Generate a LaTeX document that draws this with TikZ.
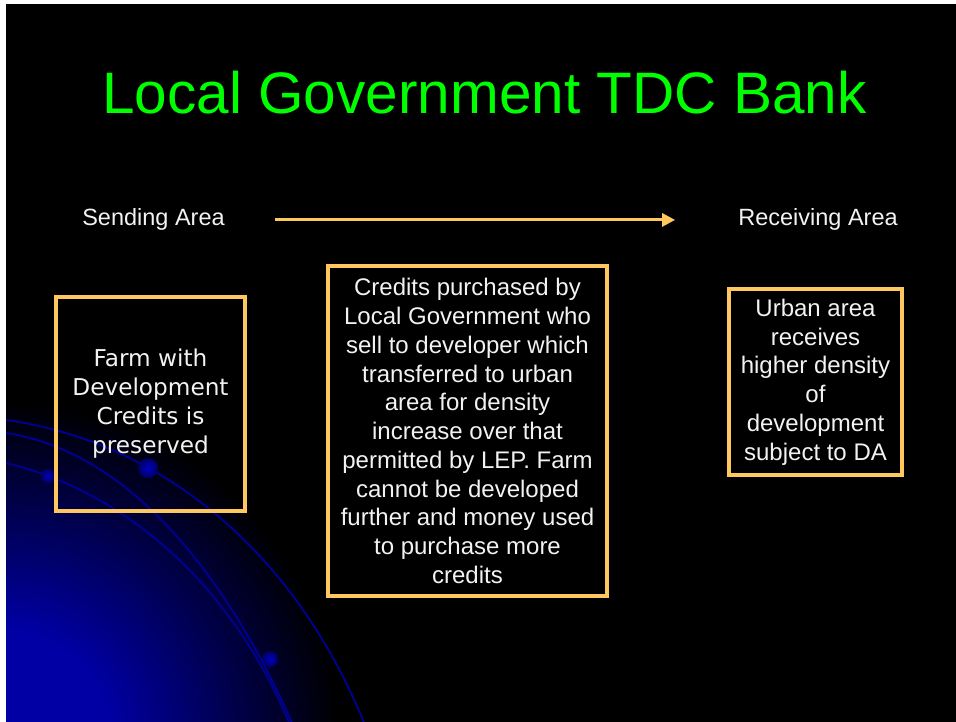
\documentclass[tikz,border=0pt]{standalone}
\usepackage{fontspec}
\setmainfont{Liberation Sans}
\newfontfamily\verdana{DejaVu Sans}
\usetikzlibrary{arrows.meta}

\definecolor{slidegreen}{RGB}{0,255,0}
\definecolor{boxorange}{RGB}{255,200,95}
\definecolor{slidetext}{RGB}{242,242,242}
\definecolor{slideblue}{RGB}{0,0,165}
\definecolor{orbitblue}{RGB}{0,0,150}
\pgfdeclareradialshading{cornerglow}{\pgfpoint{0bp}{0bp}}{color(0bp)=(slideblue);
  color(8bp)=(slideblue); color(25bp)=(black); color(50bp)=(black)}

\begin{document}
\begin{tikzpicture}[
    x = 1pt, y = -1pt,
    title/.style = {anchor = base,
      text = slidegreen,
      font = \fontsize{58.5}{70}\selectfont},
    heading/.style = {anchor = base,
      inner sep = 0pt,
      text = slidetext,
      font = \fontsize{23.5}{28}\selectfont},
    creditbox/.style = {draw = boxorange,
      line width = 4pt,
      text = slidetext,
      align = center,
      inner sep = 0pt,
      font = \fontsize{24}{28.75}\selectfont},
    farm/.style = {minimum width = 189pt,
      minimum height = 214pt,
      font = {\verdana\fontsize{23.2}{29}\selectfont}},
    bank/.style = {minimum width = 279pt,
      minimum height = 330pt},
    urban/.style = {minimum width = 173pt,
      minimum height = 186pt},
    orbit/.style = {orbitblue,
      line width = 1.8pt},
    dot/.style = {inner color = blue!75!black,
      outer color = slideblue!60!black},
    ]

    \fill [white] (0, 0) rectangle (956, 722);
    \fill [black] (6, 4) rectangle (956, 722);

    \begin{scope}
      \clip (6, 4) rectangle (956, 722);
      \shade [shading = cornerglow] (0, 740) circle [radius = 340pt];

      \draw [orbit] (6, 420) .. controls (150, 440) and (290, 540) .. (365, 725);
      \draw [orbit] (6, 433) .. controls (120, 450) and (220, 560) .. (293, 725);
      \draw [orbit] (6, 463) .. controls (120, 490) and (230, 580) .. (290, 725);

      \shade [dot] (148, 468) circle [radius = 10pt];
      \shade [dot] (48, 476) circle [radius = 7pt];
      \shade [dot] (270, 659) circle [radius = 8pt];
    \end{scope}

    \node at (484.5, 114)
    [title, name = title] {Local Government TDC Bank};

    \node at (153.5, 226)
    [heading, name = sending] {Sending Area};
    \node at (818, 226)
    [heading, name = receiving] {Receiving Area};

    \node at (150.5, 404)
    [creditbox, farm, name = farm] {Farm with\\ Development\\ Credits is\\ preserved};

    \node at (467.5, 431)
    [creditbox, bank, name = bank] {Credits purchased by\\ Local Government who\\
      sell to developer which\\ transferred to urban\\ area for density\\
      increase over that\\ permitted by LEP. Farm\\ cannot be developed\\
      further and money used\\ to purchase more\\ credits};

    \node at (815.5, 382)
    [creditbox, urban, name = urban] {Urban area\\ receives\\ higher density\\
      of\\ development\\ subject to DA};

    \draw [-{Triangle[length = 13pt, width = 13pt]}, boxorange, line width = 3pt,
    shorten <= 50pt, shorten >= 63pt] (sending) to (receiving);
  \end{tikzpicture}
\end{document}
